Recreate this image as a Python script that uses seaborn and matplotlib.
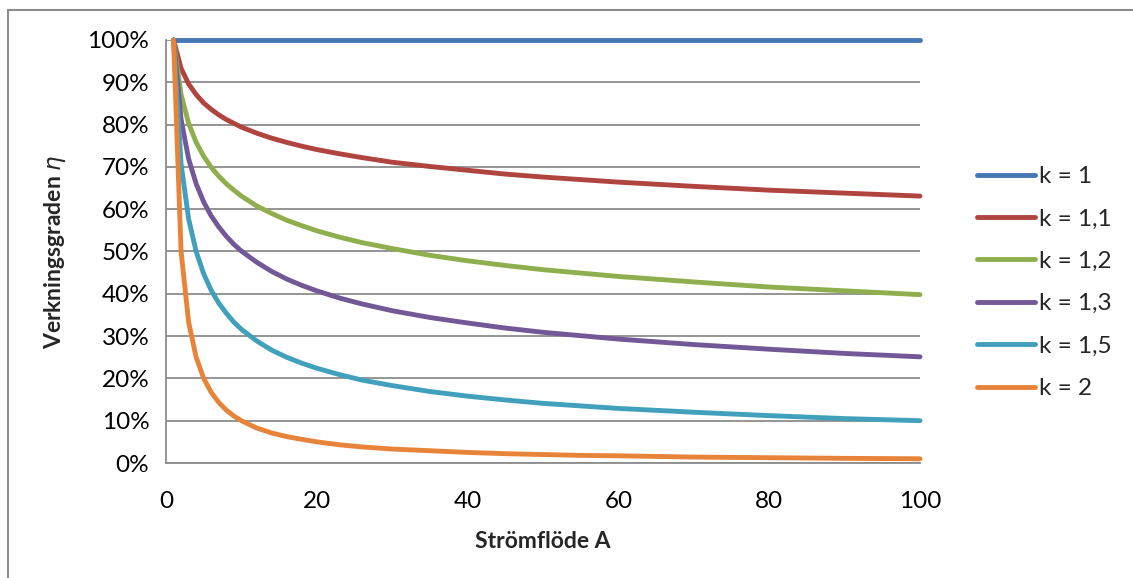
import matplotlib
matplotlib.use("Agg")
import matplotlib.pyplot as plt
import seaborn as sns
import pandas as pd
from matplotlib.ticker import PercentFormatter, MultipleLocator
from matplotlib.patches import Rectangle

# Data (Strömflöde A vs efficiency)
A = [1, 2, 3, 4, 5, 6, 7, 8, 9, 10, 12, 14, 16, 18, 20, 23, 26, 30, 35, 40, 45,
     50, 55, 60, 70, 80, 90, 100]
k1 = [1.0] * 28
k11 = [1.0, .933, .896, .871, .851, .836, .823, .812, .803, .794, .780, .768, .758,
       .749, .741, .731, .722, .711, .701, .692, .683, .676, .670, .664, .654, .645,
       .638, .631]
k12 = [1.0, .871, .803, .758, .725, .699, .678, .660, .645, .631, .608, .590, .574,
       .561, .549, .534, .521, .507, .491, .478, .467, .457, .449, .441, .428, .416,
       .407, .398]
k13 = [1.0, .812, .719, .660, .617, .584, .558, .536, .517, .501, .475, .453, .435,
       .420, .407, .390, .376, .360, .344, .331, .319, .309, .301, .293, .280, .269,
       .259, .251]
k15 = [1.0, .707, .577, .500, .447, .408, .378, .354, .333, .316, .289, .267, .250,
       .236, .224, .209, .196, .183, .169, .158, .149, .141, .135, .129, .120, .112,
       .105, .100]
k2 = [1.0, .5, .333, .25, .2, .167, .143, .125, .111, .1, .083, .071, .0625, .056,
      .05, .043, .038, .033, .029, .025, .022, .02, .018, .017, .014, .0125, .011,
      .01]
labels = ["k = 1", "k = 1,1", "k = 1,2", "k = 1,3", "k = 1,5", "k = 2"]
series = [k1, k11, k12, k13, k15, k2]
colors = ["#4677B5", "#B0443F", "#8FAF4E", "#725896", "#41A0BC", "#E8843A"]

rows = []
for lab, vals in zip(labels, series):
    for a, v in zip(A, vals):
        rows.append({"A": a, "eta": v, "k": lab})
df = pd.DataFrame(rows)

sns.set_theme(style="white")
plt.rcParams["font.family"] = ["Lato", "DejaVu Sans"]
plt.rcParams["mathtext.fontset"] = "dejavusans"

fig = plt.figure(figsize=(11.33, 5.78), dpi=100)
ax = fig.add_axes([166/1133, 1 - 463/578, (920-166)/1133, (463-40)/578])

sns.lineplot(data=df, x="A", y="eta", hue="k", palette=colors, hue_order=labels,
             linewidth=3.5, ax=ax, legend=True)
for ln in ax.get_lines():
    ln.set_clip_on(False)
    ln.set_solid_capstyle("round")
    ln.set_solid_joinstyle("round")

ax.set_xlim(0, 100)
ax.set_ylim(0, 1)
ax.xaxis.set_major_locator(MultipleLocator(20))
ax.yaxis.set_major_locator(MultipleLocator(0.1))
ax.yaxis.set_major_formatter(PercentFormatter(1.0, decimals=0))
ax.grid(axis="y", color="#8C8C8C", linewidth=1.3)
ax.set_axisbelow(True)
for s in ["top", "right"]:
    ax.spines[s].set_visible(False)
for s in ["left", "bottom"]:
    ax.spines[s].set_color("#8C8C8C")
    ax.spines[s].set_linewidth(1.3)
ax.tick_params(axis="both", which="major", direction="out", length=8, width=1.3,
               color="#8C8C8C", labelsize=17.5, labelcolor="black", pad=4)
ax.tick_params(axis="x", pad=12)

ax.set_xlabel("Strömflöde A", fontsize=16.5, fontweight="bold", labelpad=14)
ax.set_ylabel(r"Verkningsgraden $\eta$", fontsize=16.5, fontweight="bold", labelpad=14)

handles, labs = ax.get_legend_handles_labels()
leg = fig.legend(handles, labs, loc="upper left",
                 bbox_to_anchor=(977/1133, 1 - 166/578), frameon=False,
                 fontsize=17.5, handlelength=2.4, handletextpad=0.15,
                 labelspacing=0.88, borderpad=0, borderaxespad=0)
ax.get_legend().remove()
for line in leg.get_lines():
    line.set_linewidth(3.5)
    line.set_solid_capstyle("round")

fig.patches.append(Rectangle((8/1133, -0.1), 1.2, 1 - 10/578 + 0.1,
                             transform=fig.transFigure, fill=False,
                             edgecolor="#8C8C8C", linewidth=1.5))

fig.savefig("out.png", dpi=100)
